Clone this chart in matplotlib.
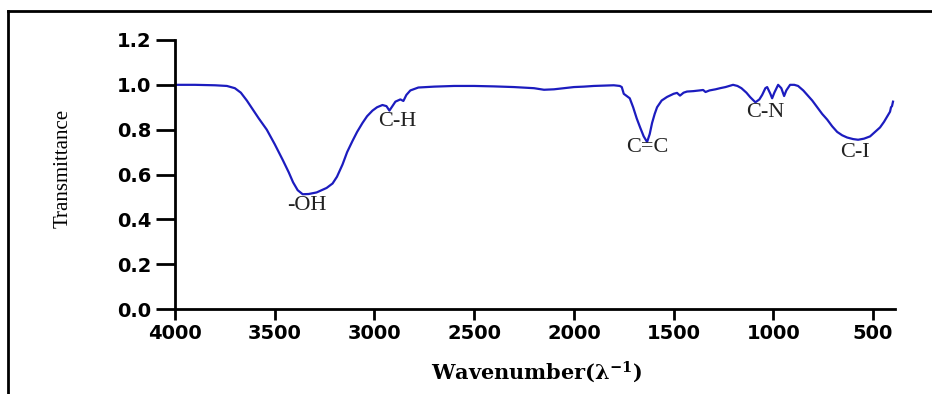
import matplotlib
matplotlib.use("Agg")
import matplotlib.pyplot as plt
from matplotlib.lines import Line2D

# spectre IR
wavenumber = [4000, 3900, 3800, 3740, 3700, 3670, 3640, 3610, 3580, 3540,
              3500, 3460, 3430, 3408, 3385, 3360, 3330, 3290, 3240, 3210,
              3188, 3160, 3137, 3110, 3087, 3060, 3037, 3010, 2987, 2960,
              2940, 2925, 2910, 2895, 2870, 2855, 2840, 2820, 2780, 2700,
              2600, 2500, 2400, 2300, 2200, 2150, 2100, 2050, 2000, 1950,
              1900, 1800, 1770, 1760, 1750, 1735, 1720, 1703, 1685, 1668,
              1650, 1633, 1620, 1608, 1595, 1583, 1560, 1533, 1500, 1483,
              1468, 1450, 1433, 1400, 1370, 1352, 1340, 1320, 1290, 1267,
              1240, 1202, 1180, 1160, 1135, 1116, 1090, 1070, 1056, 1040,
              1031, 1015, 1006, 995, 976, 960, 946, 935, 916, 895,
              876, 850, 830, 805, 780, 755, 730, 705, 680, 655,
              630, 600, 575, 545, 515, 490, 465, 445, 425, 415,
              410, 405, 400]
transmittance = [1.000, 1.000, 0.998, 0.995, 0.985, 0.965, 0.930, 0.890, 0.850, 0.800,
                 0.735, 0.665, 0.610, 0.565, 0.530, 0.512, 0.513, 0.520, 0.540, 0.560,
                 0.590, 0.645, 0.700, 0.750, 0.790, 0.830, 0.860, 0.885, 0.900, 0.910,
                 0.905, 0.885, 0.905, 0.925, 0.935, 0.928, 0.955, 0.975, 0.988, 0.992,
                 0.995, 0.995, 0.993, 0.990, 0.985, 0.978, 0.980, 0.985, 0.990, 0.992,
                 0.995, 0.998, 0.995, 0.990, 0.960, 0.950, 0.940, 0.900, 0.850, 0.810,
                 0.770, 0.745, 0.780, 0.830, 0.870, 0.900, 0.930, 0.946, 0.960, 0.964,
                 0.952, 0.965, 0.970, 0.972, 0.975, 0.977, 0.968, 0.975, 0.980, 0.985,
                 0.990, 1.000, 0.995, 0.985, 0.965, 0.945, 0.922, 0.935, 0.955, 0.985,
                 0.990, 0.960, 0.940, 0.965, 1.000, 0.985, 0.950, 0.975, 1.000, 1.000,
                 0.995, 0.975, 0.955, 0.930, 0.900, 0.870, 0.845, 0.815, 0.790, 0.775,
                 0.765, 0.758, 0.755, 0.760, 0.770, 0.790, 0.810, 0.835, 0.865, 0.880,
                 0.900, 0.905, 0.925]

# bandes
labels = ["-OH", "C-H", "C=C", "C-N", "C-I"]
label_wn = [3338, 2887, 1633, 1041, 590]
label_t = [0.46, 0.835, 0.72, 0.875, 0.70]

xticks = [4000, 3500, 3000, 2500, 2000, 1500, 1000, 500]
yticks = [0.0, 0.2, 0.4, 0.6, 0.8, 1.0, 1.2]

fig = plt.figure(figsize=(9.32, 3.94), dpi=100)
ax = fig.add_axes([0.1878, 0.2157, 0.7725, 0.6828])

ax.plot(wavenumber, transmittance, color="#1c1cbf", lw=1.6)

for lab, x, y in zip(labels, label_wn, label_t):
    ax.text(x, y, lab, ha="center", va="center", fontsize=16,
            family="Liberation Serif", color="#222222")

ax.set_xlim(4000, 390)
ax.set_ylim(0, 1.2)
ax.set_xticks(xticks)
ax.set_yticks(yticks)
ax.set_yticklabels(["%.1f" % v for v in yticks])
for s in ["top", "right"]:
    ax.spines[s].set_visible(False)
for s in ["left", "bottom"]:
    ax.spines[s].set_linewidth(2)
ax.tick_params(axis="y", length=14, width=2, pad=3, labelsize=14)
ax.tick_params(axis="x", length=8, width=2, pad=3, labelsize=14)
for t in ax.get_xticklabels() + ax.get_yticklabels():
    t.set_fontweight("bold")
    t.set_family("DejaVu Sans")

fig.text(63 / 932, 1 - 168 / 394, "Transmittance", rotation=90,
         ha="center", va="center", fontsize=15, family="Liberation Serif")
plt.rcParams["mathtext.fontset"] = "dejavuserif"
fig.text(537 / 932, 1 - 372 / 394, r"Wavenumber($\mathbf{\lambda^{-1}}$)",
         ha="center", va="center", fontsize=15, family="DejaVu Serif",
         fontweight="bold")

# cadre
fig.add_artist(Line2D([8 / 932, 8 / 932], [0, 1 - 11 / 394], color="black", lw=2,
                      transform=fig.transFigure))
fig.add_artist(Line2D([8 / 932, 1], [1 - 11 / 394, 1 - 11 / 394], color="black", lw=2,
                      transform=fig.transFigure))

fig.savefig("out.png", dpi=100)
